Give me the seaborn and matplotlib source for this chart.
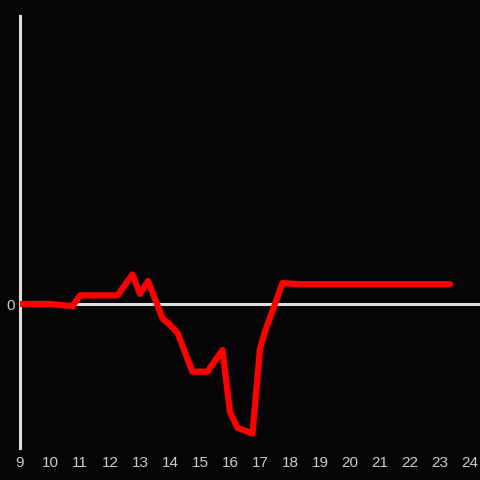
import matplotlib
matplotlib.use('Agg')
import matplotlib.pyplot as plt
import seaborn as sns
import pandas as pd

# hour of day vs. change (arbitrary units)
hours = [9.0, 10.0, 10.75, 11.0, 12.25, 12.75, 13.0, 13.27, 13.75, 13.95, 14.25,
         14.75, 15.25, 15.75, 16.0, 16.25, 16.75, 17.0, 17.17, 17.75, 18.33, 23.33]
change = [0.0, 0.0, -0.15, 0.6, 0.6, 2.05, 0.7, 1.6, -1.0, -1.35, -2.0,
          -4.7, -4.7, -3.2, -7.5, -8.6, -9.0, -3.1, -1.9, 1.45, 1.38, 1.38]
xticks = list(range(9, 25))

df = pd.DataFrame({'hour': hours, 'change': change})

sns.set_theme(style='dark')
bg = '#050407'
plt.rcParams.update({
    'figure.facecolor': bg,
    'axes.facecolor': bg,
    'savefig.facecolor': bg,
    'font.family': ['Liberation Sans', 'DejaVu Sans'],
})

fig = plt.figure(figsize=(4.8, 4.8), dpi=100)
ax = fig.add_axes([20 / 480, 32 / 480, 460 / 480, 432 / 480])

ax.axhline(0, color='#dddddd', linewidth=2.2, zorder=1)
sns.lineplot(data=df, x='hour', y='change', ax=ax, color='#ff0000',
             linewidth=4.5, zorder=3)

ax.set_xlim(9, 9 + 460 / 30)
ax.set_ylim(-10, 20)
ax.set_xticks(xticks)
ax.set_yticks([0])
ax.set_xlabel('')
ax.set_ylabel('')
ax.grid(False)
ax.tick_params(axis='both', length=0, colors='#cccccc', labelsize=11)
ax.tick_params(axis='x', pad=6)
ax.tick_params(axis='y', pad=4)

for side in ['top', 'right', 'bottom']:
    ax.spines[side].set_visible(False)
ax.spines['left'].set_color('#dddddd')
ax.spines['left'].set_linewidth(2.2)

fig.savefig('out.png', dpi=100)
